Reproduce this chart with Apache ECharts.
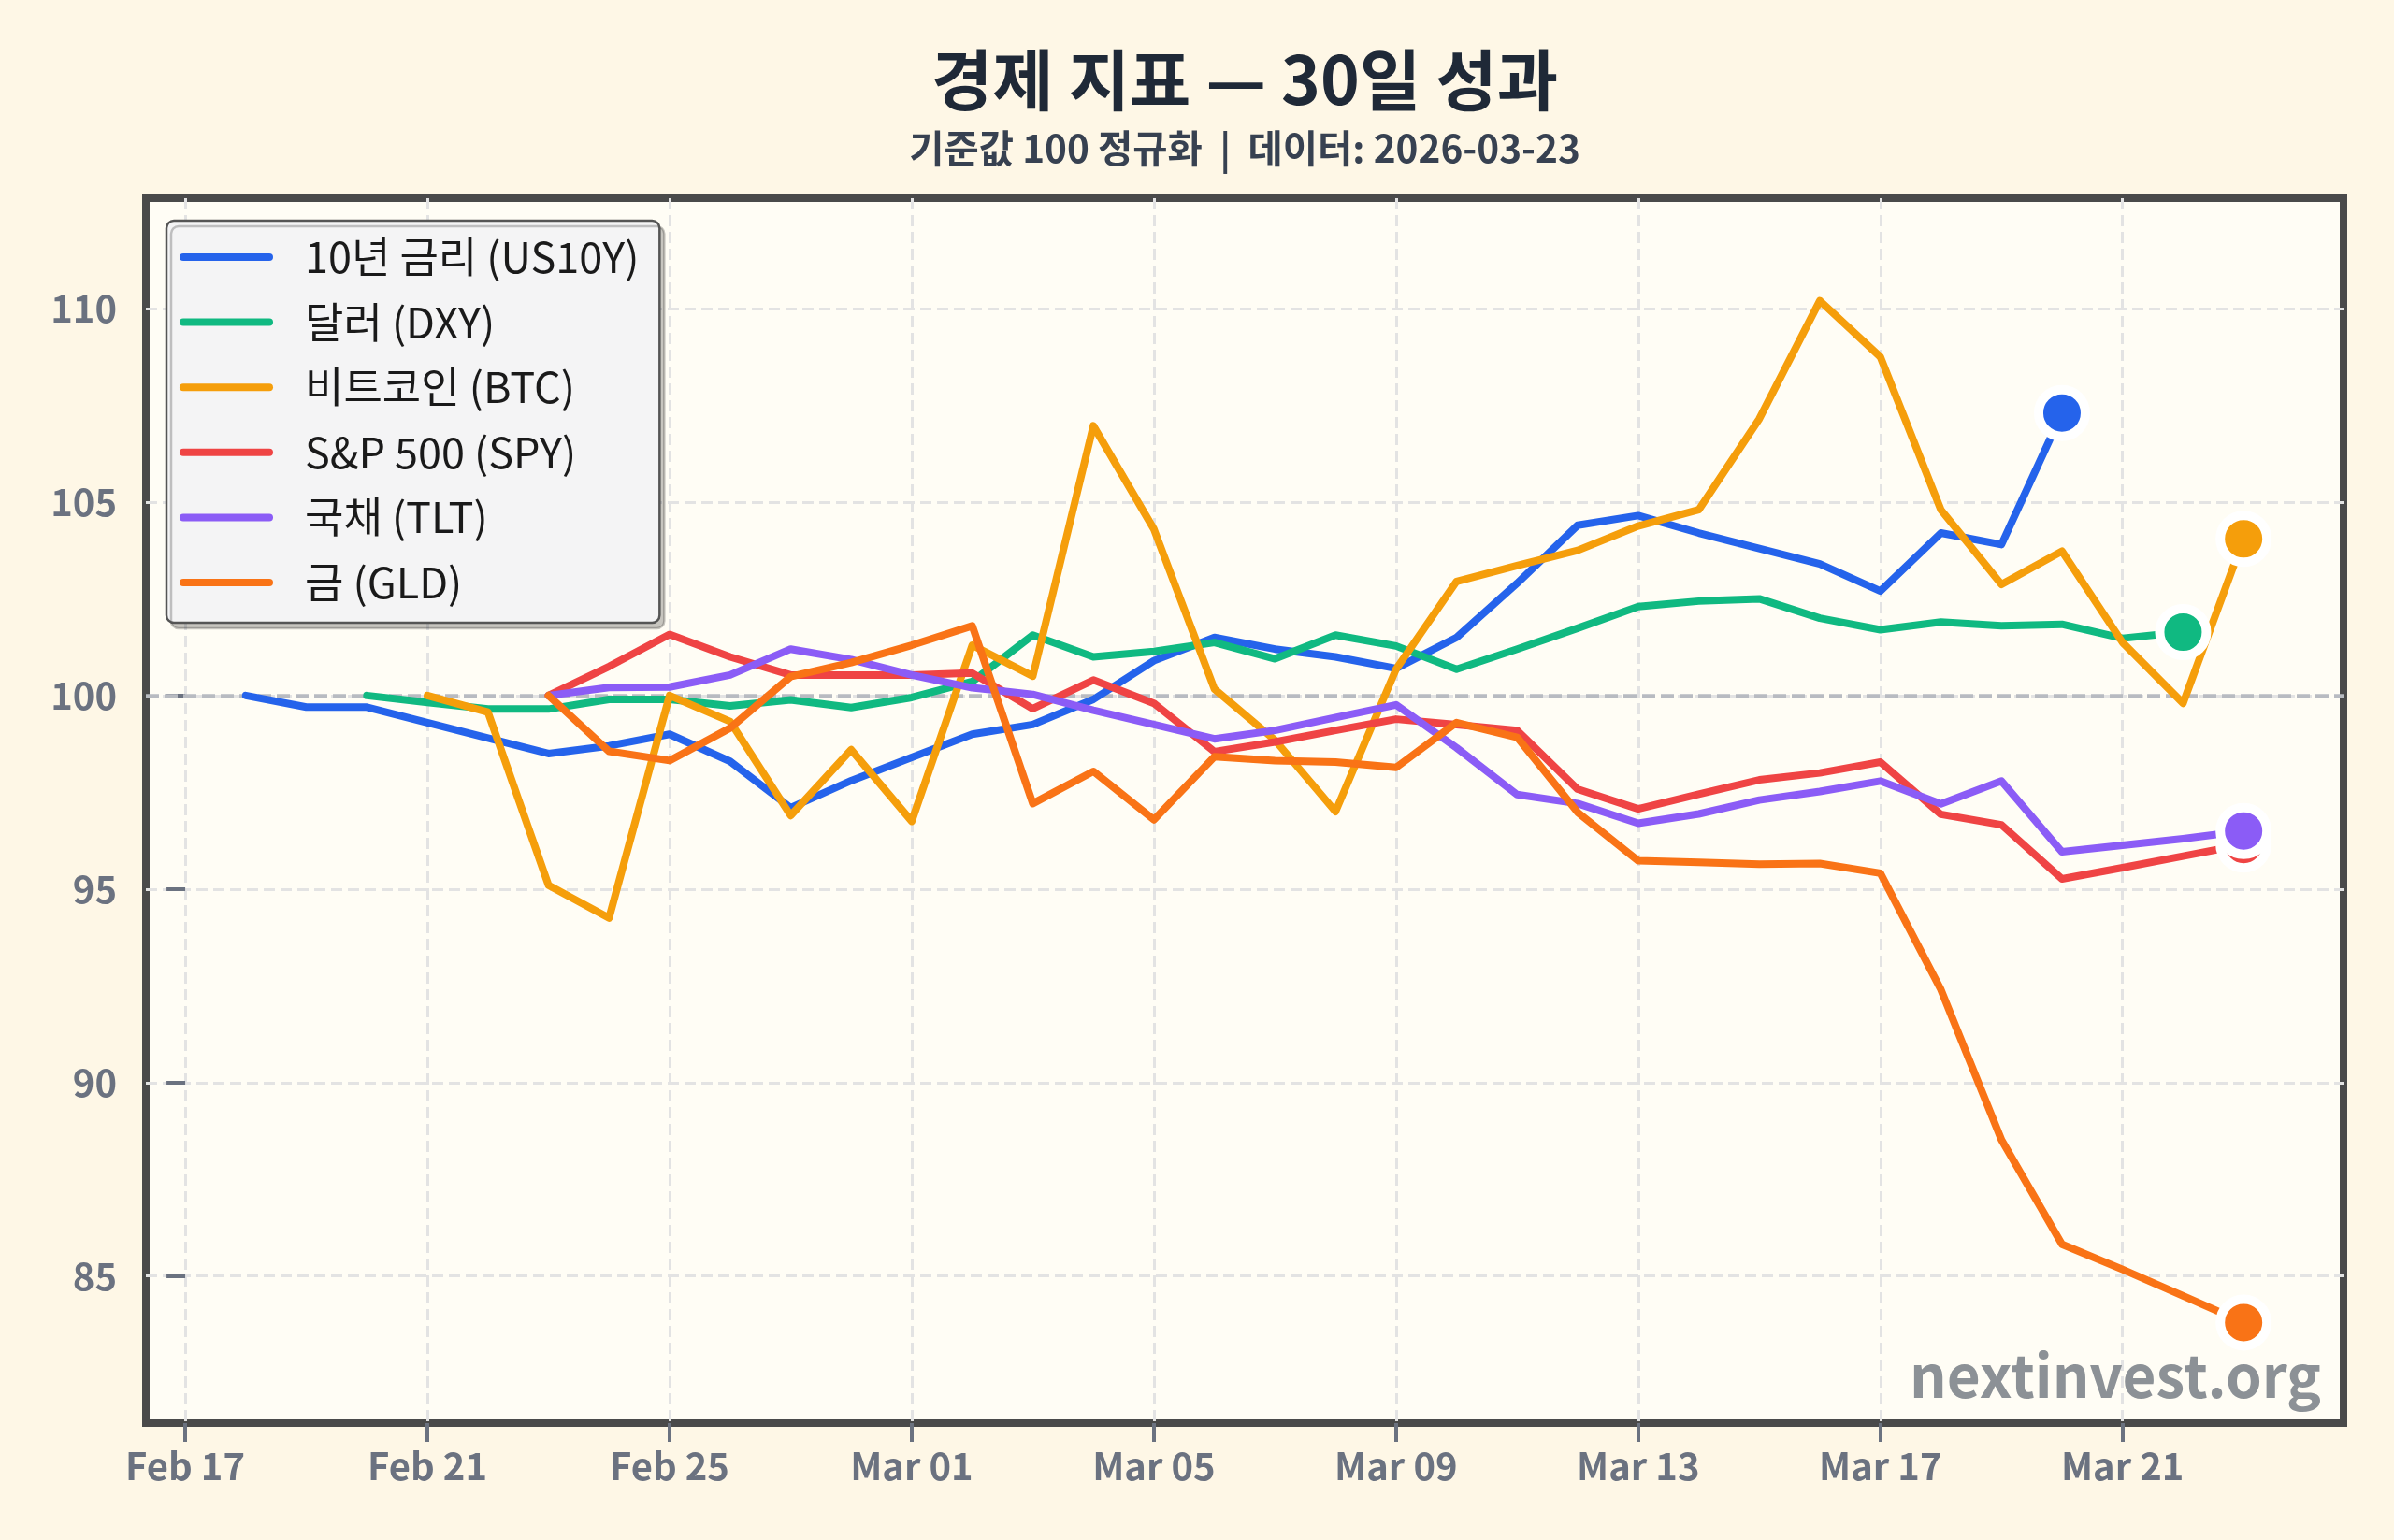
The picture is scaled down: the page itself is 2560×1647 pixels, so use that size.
<!DOCTYPE html>
<html>
<head>
<meta charset="utf-8">
<script src="https://cdn.jsdelivr.net/npm/echarts@6/dist/echarts.min.js"></script>
<style>
  html, body { margin: 0; padding: 0; background: #FEF7E6; }
  #chart { width: 2560px; height: 1647px; }
</style>
</head>
<body>
<div id="chart"></div>
<script>
// ---------------- DATA ----------------
const dates = [
  '2026-02-18','2026-02-19','2026-02-20','2026-02-21','2026-02-22','2026-02-23','2026-02-24',
  '2026-02-25','2026-02-26','2026-02-27','2026-02-28','2026-03-01','2026-03-02','2026-03-03',
  '2026-03-04','2026-03-05','2026-03-06','2026-03-07','2026-03-08','2026-03-09','2026-03-10',
  '2026-03-11','2026-03-12','2026-03-13','2026-03-14','2026-03-15','2026-03-16','2026-03-17',
  '2026-03-18','2026-03-19','2026-03-20','2026-03-21','2026-03-22','2026-03-23'
];

const us10y = [100.0, 99.7, 99.7, 99.3, 98.9, 98.5, 98.7, 99.0, 98.3, 97.1, 97.8, 98.4, 99.0, 99.25,
  99.9, 100.9, 101.5, 101.2, 101.0, 100.7, 101.5, 102.9, 104.4, 104.65, 104.2, 103.8, 103.4, 102.7,
  104.2, 103.9, 107.3, null, null, null];

const dxy = [null, null, 100.0, 99.82, 99.65, 99.65, 99.9, 99.9, 99.73, 99.89, 99.69, 99.95, 100.36, 101.56,
  101.0, 101.14, 101.37, 100.95, 101.56, 101.28, 100.68, 101.2, 101.74, 102.3, 102.44, 102.5, 102.0, 101.7,
  101.9, 101.8, 101.84, 101.48, 101.64, null];

const btc = [null, null, null, 100.0, 99.57, 95.1, 94.25, 100.0, 99.33, 96.9, 98.6, 96.75, 101.3, 100.5,
  106.97, 104.3, 100.17, 98.85, 97.0, 100.68, 102.95, 103.36, 103.75, 104.38, 104.8, 107.15, 110.2, 108.75,
  104.8, 102.87, 103.73, 101.37, 99.8, 104.05];

const spy = [null, null, null, null, null, 100.0, 100.75, 101.58, 101.0, 100.53, 100.53, 100.53, 100.58, 99.66,
  100.4, 99.8, 98.55, 98.8, 99.1, 99.39, 99.25, 99.1, 97.58, 97.07, 97.45, 97.82, 98.0, 98.28,
  96.93, 96.66, 95.26, 95.55, 95.85, 96.15];

const tlt = [null, null, null, null, null, 100.0, 100.21, 100.22, 100.53, 101.2, 100.93, 100.53, 100.2, 100.03,
  99.62, 99.25, 98.88, 99.1, 99.43, 99.76, 98.65, 97.44, 97.21, 96.7, 96.94, 97.3, 97.52, 97.79,
  97.2, 97.79, 95.96, 96.13, 96.3, 96.5];

const gld = [null, null, null, null, null, 100.0, 98.56, 98.32, 99.16, 100.49, 100.85, 101.3, 101.8, 97.21,
  98.04, 96.79, 98.42, 98.32, 98.28, 98.14, 99.3, 98.92, 96.98, 95.73, 95.69, 95.64, 95.66, 95.41,
  92.4, 88.52, 85.82, 85.17, 84.49, 83.8];

const seriesNames = ['10년 금리 (US10Y)', '달러 (DXY)', '비트코인 (BTC)', 'S&P 500 (SPY)', '국채 (TLT)', '금 (GLD)'];
const seriesValues = [us10y, dxy, btc, spy, tlt, gld];

const tickDates = ['2026-02-17','2026-02-21','2026-02-25','2026-03-01','2026-03-05','2026-03-09','2026-03-13','2026-03-17','2026-03-21'];
const tickLabels = ['Feb 17','Feb 21','Feb 25','Mar 01','Mar 05','Mar 09','Mar 13','Mar 17','Mar 21'];
const yTicks = [85, 90, 95, 100, 105, 110];
const baseValue = 100;

const titleText = '경제 지표 — 30일 성과';
const subtitleText = '기준값 100 정규화  |  데이터: 2026-03-23';
const watermarkText = 'nextinvest.org';

// ---------------- STYLE ----------------
const colors = ['#2563eb', '#10b981', '#f59e0b', '#ef4444', '#8b5cf6', '#f97316'];
const FONT = "'Noto Sans CJK KR', 'Noto Sans', sans-serif";
const DAY = 86400000;
const dayOf = iso => (Date.parse(iso) - Date.parse(tickDates[0])) / DAY;

const xFirst = dayOf(dates[0]);
const xLast = dayOf(dates[dates.length - 1]);
const xPad = (xLast - xFirst) * 0.05;

const tickPos = tickDates.map(dayOf);

const GRID = { left: 156, right: 54, top: 212, bottom: 125 };
const plotCenterX = GRID.left + (2560 - GRID.left - GRID.right) / 2;

const lineSeries = seriesNames.map((name, i) => {
  const s = {
    name,
    type: 'line',
    color: colors[i],
    data: dates.map((d, j) => [dayOf(d), seriesValues[i][j]]),
    showSymbol: false,
    symbol: 'none',
    connectNulls: false,
    lineStyle: { width: 8, color: colors[i], cap: 'round', join: 'round' },
    itemStyle: { color: colors[i] },
    z: 2,
    silent: true,
    animation: false
  };
  if (i === 0) {
    s.markLine = {
      silent: true,
      z: 1,
      symbol: 'none',
      label: { show: false },
      lineStyle: { color: '#b8bbc1', width: 4.5, type: [14, 6], opacity: 1 },
      data: [{ yAxis: baseValue }],
      animation: false
    };
  }
  return s;
});

// end-point markers
const endPoints = seriesValues.map((vals, i) => {
  let k = vals.length - 1;
  while (k >= 0 && vals[k] == null) k--;
  return { value: [dayOf(dates[k]), vals[k]], itemStyle: { color: colors[i] } };
});

const option = {
  backgroundColor: '#FEF7E6',
  animation: false,
  title: [
    {
      text: titleText, left: plotCenterX, textAlign: 'center', top: 50, padding: 0,
      textStyle: { fontFamily: FONT, fontSize: 71, fontWeight: 'bold', color: '#1f2937', lineHeight: 71 }
    },
    {
      text: subtitleText, left: plotCenterX, textAlign: 'center', top: 139, padding: 0,
      textStyle: { fontFamily: FONT, fontSize: 40.5, fontWeight: 'bold', color: '#374151', lineHeight: 40 }
    }
  ],
  grid: {
    left: GRID.left, right: GRID.right, top: GRID.top, bottom: GRID.bottom,
    show: true, backgroundColor: '#FFFDF5', borderColor: '#4a4a4a', borderWidth: 8, z: 0
  },
  legend: {
    data: seriesNames,
    orient: 'vertical',
    left: 178, top: 236,
    padding: [14, 22, 18, 14],
    itemWidth: 100, itemHeight: 8, itemGap: 19.6,
    icon: 'path://M4,0H96A4,4,0,0,1,96,8H4A4,4,0,0,1,4,0Z',
    backgroundColor: '#f4f4f5',
    borderColor: '#555555', borderWidth: 2.5, borderRadius: 8,
    shadowColor: 'rgba(0,0,0,0.22)', shadowBlur: 0, shadowOffsetX: 5, shadowOffsetY: 6,
    selectedMode: false,
    textStyle: { fontFamily: FONT, fontSize: 45, color: '#1a1a1a', lineHeight: 50, padding: [0, 0, 0, 29] }
  },
  xAxis: {
    type: 'value',
    min: xFirst - xPad, max: xLast + xPad,
    axisLine: { show: false },
    axisTick: { show: true, customValues: tickPos, length: 20, lineStyle: { color: '#6b7280', width: 4 } },
    axisLabel: {
      customValues: tickPos, margin: 26,
      fontFamily: FONT, fontSize: 40, fontWeight: 'bold', color: '#6b7280',
      formatter: v => { const k = tickPos.indexOf(v); return k >= 0 ? tickLabels[k] : ''; }
    },
    splitLine: { show: true, lineStyle: { color: '#e3e3e3', width: 3, type: [12, 6] } }
  },
  yAxis: {
    type: 'value',
    min: 81.2, max: 112.85,
    axisLine: { show: false },
    axisTick: { show: true, customValues: yTicks, length: 20, lineStyle: { color: '#6b7280', width: 4 } },
    axisLabel: {
      customValues: yTicks, margin: 31,
      fontFamily: FONT, fontSize: 40, fontWeight: 'bold', color: '#6b7280',
      formatter: v => String(Math.round(v))
    },
    splitLine: { show: true, lineStyle: { color: '#e3e3e3', width: 3, type: [12, 6] } }
  },
  graphic: [
    {
      type: 'text', right: 78, top: 1440, z: 1, silent: true,
      style: { text: watermarkText, fontFamily: FONT, fontSize: 62, fontWeight: 'bold', fill: '#8c9196' }
    }
  ],
  series: lineSeries.concat([{
    type: 'scatter',
    data: endPoints,
    symbol: 'circle',
    symbolSize: 50,
    itemStyle: { borderColor: '#ffffff', borderWidth: 10, opacity: 1 },
    z: 3,
    silent: true,
    animation: false
  }])
};

const chart = echarts.init(document.getElementById('chart'), null, { renderer: 'canvas' });
chart.setOption(option);
</script>
</body>
</html>
